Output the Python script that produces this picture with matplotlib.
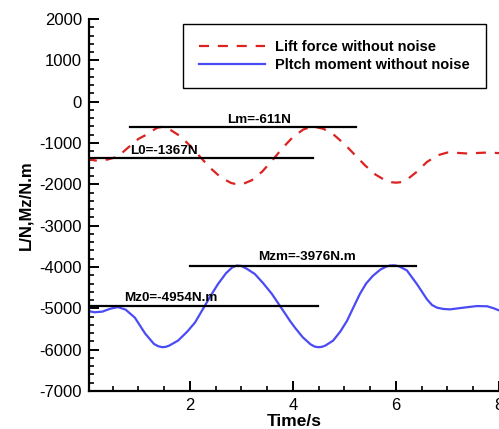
import matplotlib
matplotlib.use('Agg')
import matplotlib.pyplot as plt
from matplotlib.ticker import MultipleLocator, FixedLocator

plt.rcParams['font.family'] = ['Liberation Sans', 'DejaVu Sans']
plt.rcParams['axes.unicode_minus'] = False

# Lift force
t_lift = [0.0, 0.2, 0.4, 0.6, 0.8, 1.0, 1.2, 1.3, 1.37, 1.45, 1.53, 1.6, 1.8,
          2.0, 2.2, 2.4, 2.6, 2.8, 2.88, 2.95, 3.03, 3.2, 3.4, 3.6, 3.8, 4.0,
          4.2, 4.32, 4.4, 4.48, 4.6, 4.8, 5.0, 5.2, 5.4, 5.6, 5.8, 5.92, 6.0,
          6.08, 6.2, 6.4, 6.6, 6.8, 7.0, 7.2, 7.4, 7.6, 7.8, 8.0]
lift = [-1390, -1430, -1400, -1330, -1110, -900, -770, -680, -630, -611, -625,
        -666, -826, -1062, -1340, -1611, -1832, -1968, -1990, -2000, -1990,
        -1901, -1695, -1418, -1119, -855, -674, -622, -611, -625, -661, -808,
        -1027, -1285, -1543, -1762, -1909, -1950, -1960, -1950, -1900, -1700,
        -1460, -1300, -1230, -1240, -1255, -1240, -1230, -1245]

# Pitch moment
t_mom = [0.0, 0.15, 0.3, 0.45, 0.6, 0.75, 0.93, 1.13, 1.3, 1.38, 1.46, 1.53,
         1.6, 1.77, 1.95, 2.1, 2.25, 2.4, 2.54, 2.7, 2.82, 2.91, 3.0, 3.1,
         3.26, 3.42, 3.59, 3.79, 3.94, 4.04, 4.19, 4.34, 4.42, 4.49, 4.56,
         4.63, 4.78, 4.92, 5.05, 5.18, 5.3, 5.42, 5.55, 5.7, 5.82, 5.88, 5.94,
         6.0, 6.06, 6.21, 6.41, 6.6, 6.7, 6.8, 6.92, 7.05, 7.3, 7.57, 7.77,
         7.9, 8.0]
moment = [-5060, -5095, -5080, -5010, -4970, -5030, -5225, -5610, -5860, -5915,
          -5940, -5932, -5900, -5780, -5560, -5340, -5020, -4700, -4420, -4150,
          -4010, -3965, -3975, -4040, -4170, -4390, -4650, -5020, -5300, -5470,
          -5700, -5870, -5925, -5940, -5932, -5900, -5780, -5560, -5300, -4960,
          -4650, -4400, -4215, -4060, -3985, -3966, -3960, -3966, -3985, -4080,
          -4420, -4780, -4920, -4985, -5015, -5025, -4985, -4945, -4950, -5000,
          -5050]

# reference levels
levels = [-611, -1367, -3976, -4954]
level_labels = ['Lm=-611N', 'L0=-1367N', 'Mzm=-3976N.m', 'Mz0=-4954N.m']
level_spans = [(0.83, 5.22), (0.0, 4.39), (2.0, 6.38), (0.0, 4.49)]
label_pos = [(3.34, 'center', 100), (0.83, 'left', 105), (3.32, 'left', 140),
             (0.72, 'left', 120)]

fig = plt.figure(figsize=(4.99, 4.29), dpi=100)
ax = fig.add_axes([89 / 499, 38 / 429, 410 / 499, 372 / 429])

ax.plot(t_lift, lift, color='#dd2222', lw=1.6, dashes=(4.5, 4),
        label='Lift force without noise')
ax.plot(t_mom, moment, color='#4b4bf5', lw=1.6,
        label='Pltch moment without noise')

for lv, lab, (x0, x1), (tx, ha, dy) in zip(levels, level_labels, level_spans, label_pos):
    ax.plot([x0, x1], [lv, lv], color='black', lw=1.6)
    ax.text(tx, lv + dy, lab, ha=ha, va='baseline', fontsize=9.7,
            fontweight='bold')

ax.set_xlim(0.04, 8.0)
ax.set_ylim(-7000, 2000)
ax.xaxis.set_major_locator(FixedLocator([2, 4, 6, 8]))
ax.xaxis.set_minor_locator(MultipleLocator(0.5))
ax.yaxis.set_major_locator(MultipleLocator(1000))
ax.yaxis.set_minor_locator(MultipleLocator(200))

for s in ['top', 'right']:
    ax.spines[s].set_visible(False)
for s in ['left', 'bottom']:
    ax.spines[s].set_linewidth(1.6)

ax.tick_params(which='major', direction='in', length=7, width=1.4,
               labelsize=12, pad=5)
ax.tick_params(which='minor', direction='in', length=3.8, width=1.2)

ax.set_xlabel('Time/s', fontsize=12.5, fontweight='bold', labelpad=1)
ax.set_ylabel('L/N,Mz/N.m', fontsize=12, fontweight='bold', labelpad=4)

leg = ax.legend(loc='upper left', bbox_to_anchor=(0.229, 0.987),
                borderaxespad=0,
                prop={'weight': 'bold', 'size': 10.5}, handlelength=4.5,
                handletextpad=0.75, borderpad=1.1, labelspacing=0.3,
                fancybox=False, framealpha=1, edgecolor='black')
leg.get_frame().set_linewidth(1.0)

fig.savefig('out.png', dpi=100)
